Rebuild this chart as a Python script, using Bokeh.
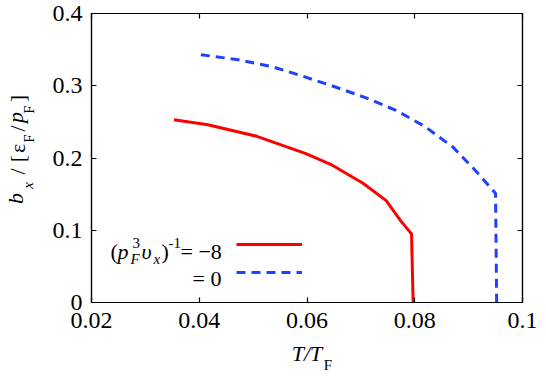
import math
from bokeh.plotting import figure
from bokeh.models import (LinearAxis, FixedTicker, Label, Range1d, Legend, LegendItem)
from bokeh.embed import file_html
from bokeh.resources import INLINE

# ---------------- data ----------------
red_T = [0.0353, 0.0416, 0.0507, 0.0598, 0.0647, 0.0704, 0.0747, 0.0774, 0.0794, 0.0797]
red_b = [0.253, 0.246, 0.230, 0.206, 0.190, 0.165, 0.141, 0.113, 0.095, 0.0]

blue_T = [0.0403, 0.0473, 0.0537, 0.0593, 0.0650, 0.0707, 0.0765, 0.0818, 0.0871, 0.0916, 0.0950, 0.0952]
blue_b = [0.343, 0.336, 0.326, 0.313, 0.299, 0.284, 0.266, 0.244, 0.215, 0.180, 0.151, 0.0]

x_ticks = [0.02, 0.04, 0.06, 0.08, 0.1]
x_tick_labels = ["0.02", "0.04", "0.06", "0.08", "0.1"]
y_ticks = [0.0, 0.1, 0.2, 0.3, 0.4]
y_tick_labels = ["0", "0.1", "0.2", "0.3", "0.4"]

SERIF = "Liberation Serif"
W, H = 546, 385
FL, FR, FT, FB = 81, 522, 13, 302  # frame edges in canvas px
X0, X1, Y0, Y1 = 0.02, 0.1, 0.0, 0.4


def px2x(px):
    return round(X0 + (px - FL) * (X1 - X0) / (FR - FL), 6)


def px2y(py):
    return round(Y0 + (FB - py) * (Y1 - Y0) / (FB - FT), 6)


p = figure(width=W, height=H, output_backend="svg", toolbar_location=None,
           x_range=Range1d(X0, X1), y_range=Range1d(Y0, Y1),
           x_axis_location=None, y_axis_location=None,
           min_border_left=FL, min_border_right=W - FR,
           min_border_top=FT, min_border_bottom=H - FB)
p.grid.visible = False
p.outline_line_color = "black"
p.outline_line_width = 1.2
p.background_fill_color = "white"
p.border_fill_color = "white"


def make_axis(ticks, labels, show, standoff=8, size=24):
    ax = LinearAxis(ticker=FixedTicker(ticks=ticks),
                    major_label_overrides={t: (l if show else "") for t, l in zip(ticks, labels)})
    ax.major_tick_in = 5
    ax.major_tick_out = 0
    ax.minor_tick_line_color = None
    ax.axis_line_color = "black"
    ax.axis_line_width = 1.2
    ax.major_tick_line_width = 1.2
    ax.major_label_text_font = SERIF
    ax.major_label_text_font_style = "normal"
    ax.major_label_text_color = "black"
    if show:
        ax.major_label_text_font_size = f"{size}px"
        ax.major_label_standoff = standoff
    else:
        ax.major_label_text_font_size = "1px"
        ax.major_label_text_alpha = 0
        ax.major_label_standoff = 0
    return ax


def text_axis(pos_labels, size, italic, standoff, vertical=False):
    ticks = [t for t, _ in pos_labels]
    ax = LinearAxis(ticker=FixedTicker(ticks=ticks),
                    major_label_overrides={t: l for t, l in pos_labels})
    ax.major_tick_line_color = None
    ax.minor_tick_line_color = None
    ax.axis_line_color = None
    ax.major_tick_in = 0
    ax.major_tick_out = 0
    ax.major_label_text_font = SERIF
    ax.major_label_text_font_size = f"{size}px"
    ax.major_label_text_font_style = "italic" if italic else "normal"
    ax.major_label_text_color = "black"
    ax.major_label_standoff = standoff
    if vertical:
        ax.major_label_orientation = "vertical"
    return ax


def spacer(standoff):
    ax = LinearAxis(ticker=FixedTicker(ticks=[]))
    ax.major_tick_line_color = None
    ax.minor_tick_line_color = None
    ax.axis_line_color = None
    ax.major_tick_in = 0
    ax.major_tick_out = 0
    ax.major_label_standoff = standoff
    return ax


# bottom axis with title T/T_F
xb = make_axis(x_ticks, x_tick_labels, True, standoff=10, size=24)
xb.axis_label = "T/T"
xb.axis_label_text_font = SERIF
xb.axis_label_text_font_size = "22px"
xb.axis_label_text_font_style = "italic"
xb.axis_label_text_color = "black"
xb.axis_label_standoff = 10
p.add_layout(xb, "below")
p.add_layout(text_axis([(px2x(323), "F")], 15, False, -12), "below")
p.add_layout(spacer(-40), "below")

# left axis and title b_x /[ε_F/p_F ]
yl = make_axis(y_ticks, y_tick_labels, True, standoff=9, size=24)
p.add_layout(yl, "left")
p.add_layout(text_axis([(px2y(138), "F"), (px2y(109), "F")], 15, False, 12, True), "left")
p.add_layout(text_axis([(px2y(185), "x")], 15, True, -18, True), "left")
p.add_layout(text_axis([(px2y(171), "/"), (px2y(158), "["), (px2y(148), "ε"),
                        (px2y(128), "/"), (px2y(98), "]")], 22, False, -13, True), "left")
p.add_layout(text_axis([(px2y(198), "b"), (px2y(117), "p")], 22, True, -26, True), "left")
p.add_layout(spacer(-40), "left")

p.add_layout(make_axis(x_ticks, x_tick_labels, False), "above")
p.add_layout(make_axis(y_ticks, y_tick_labels, False), "right")

r_red = p.line(red_T, red_b, line_color="#ff0000", line_width=3)
r_blue = p.line(blue_T, blue_b, line_color="#2040ff", line_width=3, line_dash="9 6")

legend = Legend(items=[LegendItem(label=" ", renderers=[r_red]),
                       LegendItem(label=" ", renderers=[r_blue])],
                location=(226 - FL, FB - 282), orientation="vertical",
                glyph_width=66, glyph_height=20, label_height=20, label_width=0,
                spacing=8, padding=0, margin=0, label_standoff=0,
                background_fill_alpha=0, border_line_alpha=0,
                label_text_font_size="12px")
p.add_layout(legend, "center")


def txt(ix, iy, s, size=22, italic=False):
    p.add_layout(Label(x=ix - FL, y=FB - iy, x_units="screen", y_units="screen",
                       text=s, text_font=SERIF, text_font_size=f"{size}px",
                       text_font_style="italic" if italic else "normal",
                       text_color="black", text_align="left",
                       text_baseline="alphabetic"))

# legend texts
txt(100, 251, "(", 22)
txt(107, 251, "p", 22, True)
txt(122, 242, "3", 15)
txt(120, 258, "F", 15, True)
txt(131, 251, "υ", 22, True)
txt(143, 258, "x", 15, True)
txt(151, 251, ")", 22)
txt(158, 242, "-1", 15)
txt(170, 251, "= −8", 22)
txt(182, 278, "= 0", 22)

open("out.html", "w").write(file_html(p, INLINE))
